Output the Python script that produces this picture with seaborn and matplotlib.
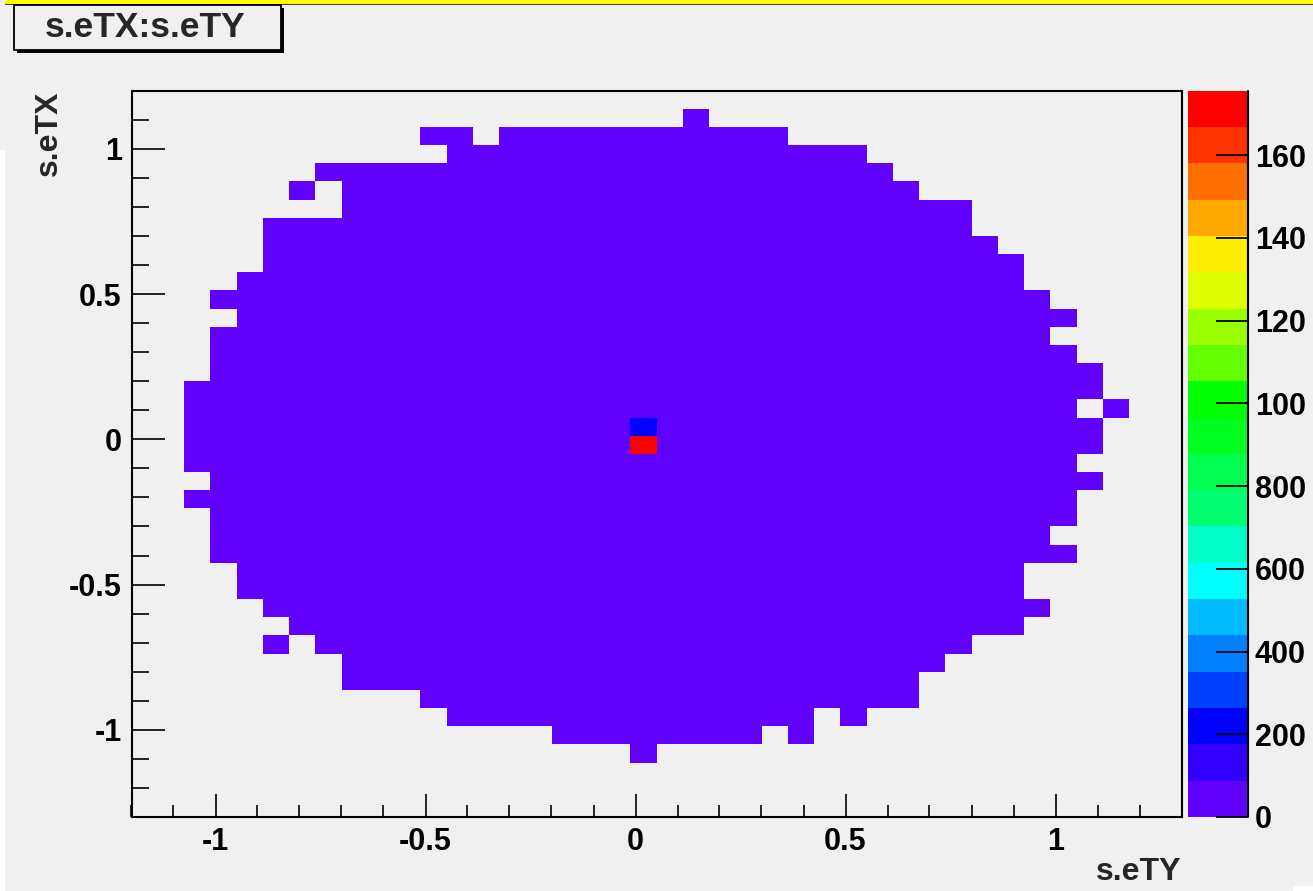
import numpy as np
import pandas as pd
import matplotlib
matplotlib.use("Agg")
import matplotlib.pyplot as plt
from matplotlib.colors import ListedColormap
from matplotlib.patches import Rectangle
from matplotlib.ticker import MultipleLocator, FuncFormatter
import seaborn as sns

# ---- binning of the s.eTY (horizontal) vs s.eTX (vertical) histogram ----
N_BINS = 40
ETY_MIN, ETY_MAX = -1.2, 1.3
ETX_MIN, ETX_MAX = -1.3, 1.2

# Filled bins: for every s.eTX row, the runs of occupied s.eTY bins (first, last)
row_bins = [3, 4, 5, 6, 7, 8, 9, 10, 11, 12, 13, 14, 15, 16, 17, 18, 19, 20,
            21, 22, 23, 24, 25, 26, 27, 28, 29, 30, 31, 32, 33, 34, 35, 36, 37, 38]
row_runs = [
    [(19, 19)],
    [(16, 23), (25, 25)],
    [(12, 25), (27, 27)],
    [(11, 29)],
    [(8, 29)],
    [(8, 30)],
    [(5, 5), (7, 31)],
    [(6, 33)],
    [(5, 34)],
    [(4, 33)],
    [(4, 33)],
    [(3, 35)],
    [(3, 34)],
    [(3, 35)],
    [(2, 35)],
    [(3, 36)],
    [(2, 35)],
    [(2, 36)],
    [(2, 36)],
    [(2, 35), (37, 37)],
    [(2, 36)],
    [(3, 36)],
    [(3, 35)],
    [(3, 34)],
    [(4, 35)],
    [(3, 34)],
    [(4, 33)],
    [(5, 33)],
    [(5, 32)],
    [(5, 31)],
    [(8, 31)],
    [(6, 6), (8, 29)],
    [(7, 28)],
    [(12, 27)],
    [(11, 12), (14, 24)],
    [(21, 21)],
]
bulk_count = 40          # entries in an ordinary occupied bin

# Two central bins with large contents: (s.eTY bin, s.eTX bin, entries)
peak_cols = [19, 19]
peak_rows = [20, 21]
peak_counts = [1756, 215]

# Palette bands (low -> high) and colour-axis labels
band_colors = ["#6000FF", "#3300FF", "#0000FF", "#0040FF", "#0080FF",
               "#00BBFF", "#00FFFF", "#00FFC8", "#00FF70", "#00FF50",
               "#00FF20", "#00FF00", "#66FF00", "#99FF00", "#DDFF00",
               "#FFEE00", "#FFA800", "#FF7000", "#FF3300", "#FF0000"]
cbar_ticks = [0, 200, 400, 600, 800, 1000, 1200, 1400, 1600]
cbar_labels = ["0", "200", "400", "600", "800", "100", "120", "140", "160"]

# ---- build the weighted entries ----
ty_w = (ETY_MAX - ETY_MIN) / N_BINS
tx_w = (ETX_MAX - ETX_MIN) / N_BINS
records = []
for r, runs in zip(row_bins, row_runs):
    for a, b in runs:
        for c in range(a, b + 1):
            records.append((c, r, bulk_count))
df = pd.DataFrame(records, columns=["col", "row", "n"])
for c, r, n in zip(peak_cols, peak_rows, peak_counts):
    df.loc[(df["col"] == c) & (df["row"] == r), "n"] = n
df["s.eTY"] = ETY_MIN + (df["col"] + 0.5) * ty_w
df["s.eTX"] = ETX_MIN + (df["row"] + 0.5) * tx_w
ty_edges = np.linspace(ETY_MIN, ETY_MAX, N_BINS + 1)
tx_edges = np.linspace(ETX_MIN, ETX_MAX, N_BINS + 1)

# ---- styling ----
BG = "#F0F0F0"
sns.set_style("ticks")
plt.rcParams["font.family"] = ["Liberation Sans", "DejaVu Sans"]
plt.rcParams["font.weight"] = "bold"
plt.rcParams["axes.linewidth"] = 1.5
plt.rcParams["xtick.color"] = "black"
plt.rcParams["ytick.color"] = "black"

W, H = 1313, 891
fig = plt.figure(figsize=(W / 100, H / 100), dpi=100, facecolor=BG)


def fx(px):
    return px / W


def fy(py):
    return 1 - py / H


ax = fig.add_axes([fx(131.5), fy(817), fx(1181.5) - fx(131.5), fy(90.7) - fy(817)])
cax = fig.add_axes([fx(1188), fy(817), fx(1248) - fx(1188), fy(90.7) - fy(817)])
ax.set_facecolor(BG)

cmap = ListedColormap(band_colors)
zmax = df["n"].max()
sns.histplot(data=df, x="s.eTY", y="s.eTX", weights="n",
             bins=(ty_edges, tx_edges), cmap=cmap, vmin=0, vmax=zmax,
             cbar=True, cbar_ax=cax, ax=ax, linewidth=0)

ax.set_xlim(ETY_MIN, ETY_MAX)
ax.set_ylim(ETX_MIN, ETX_MAX)
ax.set_xlabel("")
ax.set_ylabel("")
for sp in ax.spines.values():
    sp.set_visible(True)
    sp.set_color("black")
    sp.set_linewidth(1.5)

fmt = FuncFormatter(lambda v, p: f"{v:g}")
ax.xaxis.set_major_locator(MultipleLocator(0.5))
ax.xaxis.set_minor_locator(MultipleLocator(0.1))
ax.yaxis.set_major_locator(MultipleLocator(0.5))
ax.yaxis.set_minor_locator(MultipleLocator(0.1))
ax.xaxis.set_major_formatter(fmt)
ax.yaxis.set_major_formatter(fmt)
ax.tick_params(axis="x", which="major", direction="in", length=16.5, width=1.2,
               pad=7, labelsize=22, top=False, bottom=True, color="black")
ax.tick_params(axis="x", which="minor", direction="in", length=8.6, width=1.2,
               top=False, bottom=True, color="black")
ax.tick_params(axis="y", which="major", direction="in", length=23.8, width=1.2,
               pad=7, labelsize=22, left=True, right=False, color="black")
ax.tick_params(axis="y", which="minor", direction="in", length=12.2, width=1.2,
               left=True, right=False, color="black")
for lab in ax.get_xticklabels() + ax.get_yticklabels():
    lab.set_fontweight("bold")

# colour axis
cbar = ax.collections[0].colorbar
cbar.outline.set_visible(False)
cbar.set_ticks(cbar_ticks, labels=cbar_labels)
cbar.minorticks_off()
cax.yaxis.set_ticks_position("right")
cax.tick_params(axis="y", which="major", direction="in", length=23, width=1.3,
                pad=5, labelsize=22, right=True, left=False, color="black",
                zorder=10)
cax.set_axisbelow(False)
for lab in cax.get_yticklabels():
    lab.set_fontweight("bold")
cax.plot([1, 1], [0, 1], transform=cax.transAxes, color="black", lw=1.5,
         clip_on=False)

# axis titles
fig.text(fx(1181), fy(872), "s.eTY", ha="right", va="center", fontsize=23,
         fontweight="bold")
fig.text(fx(49), fy(90), "s.eTX", ha="center", va="top", rotation=90,
         fontsize=23, fontweight="bold")

# histogram title box with shadow
fig.patches.append(Rectangle((fx(17), fy(53)), fx(284) - fx(17), fy(8) - fy(53),
                             transform=fig.transFigure, facecolor="black",
                             edgecolor="none", zorder=1))
fig.patches.append(Rectangle((fx(14), fy(50)), fx(281) - fx(14), fy(5) - fy(50),
                             transform=fig.transFigure, facecolor=BG,
                             edgecolor="black", linewidth=1.3, zorder=2))
fig.text(fx(145), fy(27.5), "s.eTX:s.eTY", ha="center", va="center",
         fontsize=25.5, fontweight="bold", zorder=3)

# window highlight along the top edge
fig.patches.append(Rectangle((fx(5), fy(3.5)), 1 - fx(5), fy(0) - fy(3.5),
                             transform=fig.transFigure, facecolor="#FFFF00",
                             edgecolor="none", zorder=1))
fig.patches.append(Rectangle((fx(5), fy(4.5)), 1 - fx(5), fy(3.5) - fy(4.5),
                             transform=fig.transFigure, facecolor="#404040",
                             edgecolor="none", zorder=1))
fig.patches.append(Rectangle((0, 0), fx(5), fy(150),
                             transform=fig.transFigure, facecolor="white",
                             edgecolor="none", zorder=0))
fig.patches.append(Rectangle((fx(1293), 0), 1 - fx(1293), fy(886),
                             transform=fig.transFigure, facecolor="white",
                             edgecolor="none", zorder=0))

fig.savefig("out.png", dpi=100, facecolor=BG)
